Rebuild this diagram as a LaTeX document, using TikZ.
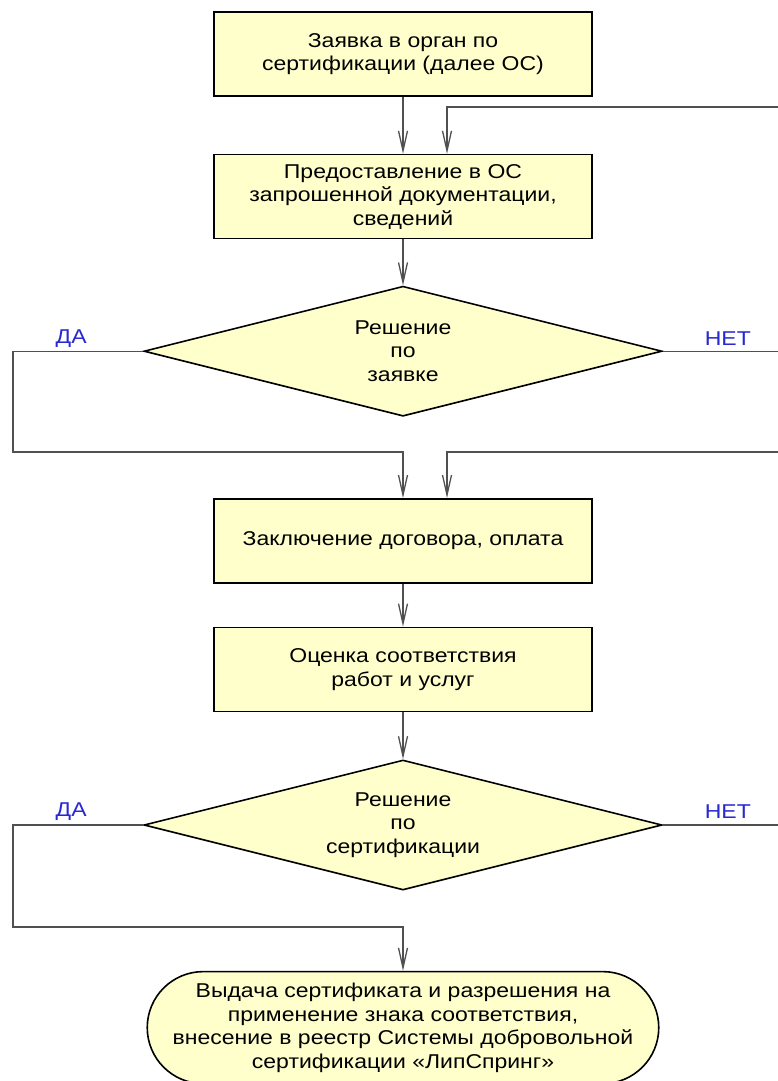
\documentclass[tikz,border=0pt]{standalone}
\usepackage{fontspec}
\setmainfont[FakeStretch=1.15]{Liberation Sans}
\usepackage{tikz}
\usetikzlibrary{arrows.meta,positioning,calc,shapes.geometric,shapes.misc}
\definecolor{boxfill}{RGB}{255,255,204}
\definecolor{linegray}{RGB}{80,80,80}
\definecolor{lblblue}{RGB}{40,40,210}

\begin{document}
\begin{tikzpicture}[x=1pt,y=1pt]
      \tikzstyle{box}=[rectangle,draw,line width=1.6pt,fill=boxfill,minimum width=378pt,minimum height=84pt,align=center,font=\fontsize{20}{23.5}\selectfont]
      \tikzstyle{dec}=[diamond,draw,line width=1.6pt,fill=boxfill,minimum width=518pt,minimum height=130pt,aspect=4,inner sep=0pt,align=center,font=\fontsize{20}{23.5}\selectfont]
      \tikzstyle{term}=[rounded rectangle,draw,line width=1.6pt,fill=boxfill,minimum width=504pt,minimum height=112pt,align=center,font=\fontsize{20}{23.5}\selectfont]
      \tikzstyle{line}=[draw=linegray,line width=1.3pt]
      \tikzstyle{arr}=[line,-{Straight Barb[length=20pt,width=9pt]}]
      \tikzstyle{lbl}=[text=lblblue,font=\fontsize{20}{23.5}\selectfont]
      \useasboundingbox (0,0) rectangle (778,-1081);
      \node[box] (zayavka) at (403,-54) {Заявка в орган по\\сертификации (далее ОС)};
      \node[box,below=57pt of zayavka] (docs) {Предоставление в ОС\\запрошенной документации,\\сведений};
      \node[dec,below=46pt of docs] (resh1) {Решение\\по\\заявке};
      \node[box,below=81pt of resh1] (dogovor) {Заключение договора, оплата};
      \node[box,below=43pt of dogovor] (ocenka) {Оценка соответствия\\работ и услуг};
      \node[dec,below=47pt of ocenka] (resh2) {Решение\\по\\сертификации};
      \node[term,below=80pt of resh2] (vydacha) {Выдача сертификата и разрешения на\\применение знака соответствия,\\внесение в реестр Системы добровольной\\сертификации «ЛипСпринг»};
      \node[lbl] (da1) at ([xshift=-72pt,yshift=13pt]resh1.west) {ДА};
      \node[lbl] (net1) at ([xshift=65pt,yshift=13pt]resh1.east) {НЕТ};
      \node[lbl] (da2) at ([xshift=-72pt,yshift=13pt]resh2.west) {ДА};
      \node[lbl] (net2) at ([xshift=65pt,yshift=13pt]resh2.east) {НЕТ};
      \coordinate (edge) at (778,0);
      \coordinate (ret1) at (778,-107);
      \coordinate (ret2) at (778,-452);
      \coordinate (loop1) at (13,-452);
      \coordinate (loop2) at (13,-927);
      \draw[arr] (zayavka) -- (docs);
      \draw[arr] (ret1) -| ([xshift=44pt]docs.north);
      \draw[arr] (docs) -- (resh1);
      \draw[arr] (resh1.west) -| (loop1) -| (dogovor.north);
      \draw[line] (resh1.east) -- (resh1.east -| edge);
      \draw[arr] (ret2) -| ([xshift=44pt]dogovor.north);
      \draw[arr] (dogovor) -- (ocenka);
      \draw[arr] (ocenka) -- (resh2);
      \draw[arr] (resh2.west) -| (loop2) -| (vydacha.north);
      \draw[line] (resh2.east) -- (resh2.east -| edge);
    \end{tikzpicture}
\end{document}
